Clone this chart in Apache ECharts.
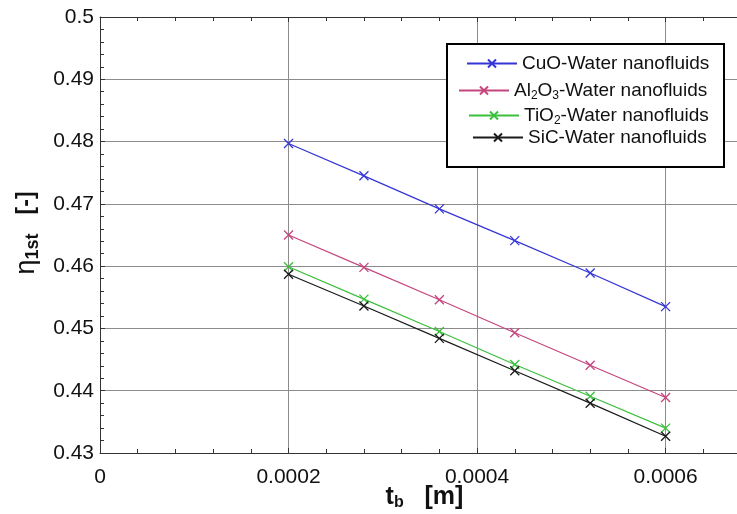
<!DOCTYPE html>
<html>
<head>
<meta charset="utf-8">
<script src="https://cdn.jsdelivr.net/npm/echarts@6/dist/echarts.min.js"></script>
<style>
  html, body { margin: 0; padding: 0; background: #fff; }
  #chart { width: 737px; height: 514px; }
</style>
</head>
<body>
<div id="chart"></div>
<script>
// thickness t_b [m]
const tb = [0.0002, 0.00028, 0.00036, 0.00044, 0.00052, 0.0006];

// efficiency values
const cuo = [0.4797, 0.4745, 0.4692, 0.4641, 0.4589, 0.4535];
const al2o3 = [0.4650, 0.4598, 0.4546, 0.4493, 0.4441, 0.4389];
const tio2 = [0.4599, 0.4547, 0.4495, 0.4442, 0.4391, 0.4340];
const sic = [0.4587, 0.4536, 0.4484, 0.4432, 0.4380, 0.4327];

const names = ["CuO", "Al2O3", "TiO2", "SiC"];
const colors = ["#3535d6", "#c4467e", "#3cbf3c", "#1a1a1a"];
const values = [cuo, al2o3, tio2, sic];

// legend text with subscripts
const legendText = {
  CuO: "{n|CuO-Water nanofluids}",
  Al2O3: "{n|Al}{s|2}{n|O}{s|3}{n|-Water nanofluids}",
  TiO2: "{n|TiO}{s|2}{n|-Water nanofluids}",
  SiC: "{n|SiC-Water nanofluids}",
};
const legendPos = [
  { left: 461, top: 49 },
  { left: 453, top: 76 },
  { left: 463, top: 101 },
  { left: 467, top: 123 },
];

const cross = "path://M0,0L10,10M10,0L0,10";
const font = "Liberation Sans, Arial, sans-serif";

const series = names.map((n, i) => ({
  name: n,
  type: "line",
  data: tb.map((x, j) => [x, values[i][j]]),
  symbol: cross,
  symbolSize: 9,
  showSymbol: true,
  lineStyle: { color: colors[i], width: 1.2 },
  itemStyle: { color: colors[i], borderColor: colors[i], borderWidth: 1.3 },
  emphasis: { disabled: true },
}));

const legends = names.map((n, i) => ({
  data: [n],
  left: legendPos[i].left,
  top: legendPos[i].top,
  itemWidth: 50,
  itemHeight: 10,
  itemGap: 2,
  formatter: () => legendText[n],
  textStyle: {
    rich: {
      n: { fontFamily: font, fontSize: 19, color: "#111" },
      s: { fontFamily: font, fontSize: 12, color: "#111", padding: [10, 0, 0, 0] },
    },
  },
  selectedMode: false,
}));

const chart = echarts.init(document.getElementById("chart"));
chart.setOption({
  backgroundColor: "#fff",
  animation: false,
  grid: { left: 100, top: 17, width: 641, height: 436, outerBoundsMode: "none", containLabel: false },
  legend: legends,
  graphic: [
    {
      type: "rect",
      shape: { x: 447, y: 44, width: 277, height: 123 },
      style: { fill: "#fff", stroke: "#000", lineWidth: 2 },
      z: 3,
    },
  ],
  xAxis: [
    {
      type: "value",
      min: 0,
      max: 0.00068,
      interval: 0.0002,
      name: "{t|t}{b|b}{t|   [m]}",
      nameLocation: "middle",
      nameMoveOverlap: false,
      nameGap: 30,
      nameTextStyle: {
        padding: [0, 0, 0, 8],
        rich: {
          t: { fontFamily: font, fontSize: 25, fontWeight: "bold", color: "#111" },
          b: { fontFamily: font, fontSize: 16, fontWeight: "bold", color: "#111", padding: [12, 0, 0, 0] },
        },
      },
      axisLine: { show: true, lineStyle: { color: "#333", width: 1 } },
      axisTick: { show: true, inside: true, length: 5, lineStyle: { color: "#333" } },
      minorTick: { show: true, splitNumber: 5, length: 4, lineStyle: { color: "#333" } },
      splitLine: { show: true, lineStyle: { color: "#8c8c8c", width: 1 } },
      axisLabel: {
        fontFamily: font,
        fontSize: 21,
        color: "#111",
        margin: 14,
        showMaxLabel: false,
        formatter: (v) => (v === 0 ? "0" : v.toFixed(4)),
      },
    },
    {
      type: "value",
      position: "top",
      min: 0,
      max: 0.00068,
      interval: 0.0002,
      axisLine: { show: true, lineStyle: { color: "#333", width: 1 } },
      axisTick: { show: true, inside: true, length: 5, lineStyle: { color: "#333" } },
      minorTick: { show: true, splitNumber: 5, length: 4, lineStyle: { color: "#333" } },
      splitLine: { show: false },
      axisLabel: { show: false },
    },
  ],
  yAxis: {
    type: "value",
    min: 0.43,
    max: 0.5,
    interval: 0.01,
    name: "{e|η}{s|1st}{k|   [-]}",
    nameLocation: "middle",
    nameRotate: 90,
    nameMoveOverlap: false,
    nameGap: 58,
    nameTextStyle: {
      padding: [0, 0, 0, 4],
      rich: {
        e: { fontFamily: font, fontSize: 27, color: "#111" },
        s: { fontFamily: font, fontSize: 18, fontWeight: "bold", color: "#111", padding: [12, 0, 0, 0] },
        k: { fontFamily: font, fontSize: 23, fontWeight: "bold", color: "#111" },
      },
    },
    axisLine: { show: true, lineStyle: { color: "#333", width: 1 } },
    axisTick: { show: true, inside: true, length: 5, lineStyle: { color: "#333" } },
    minorTick: { show: true, splitNumber: 5, length: 4, lineStyle: { color: "#333" } },
    splitLine: { show: true, lineStyle: { color: "#8c8c8c", width: 1 } },
    axisLabel: {
      fontFamily: font,
      fontSize: 21,
      color: "#111",
      margin: 6,
      formatter: (v) => String(parseFloat(v.toFixed(2))),
    },
  },
  series: series,
});
</script>
</body>
</html>
